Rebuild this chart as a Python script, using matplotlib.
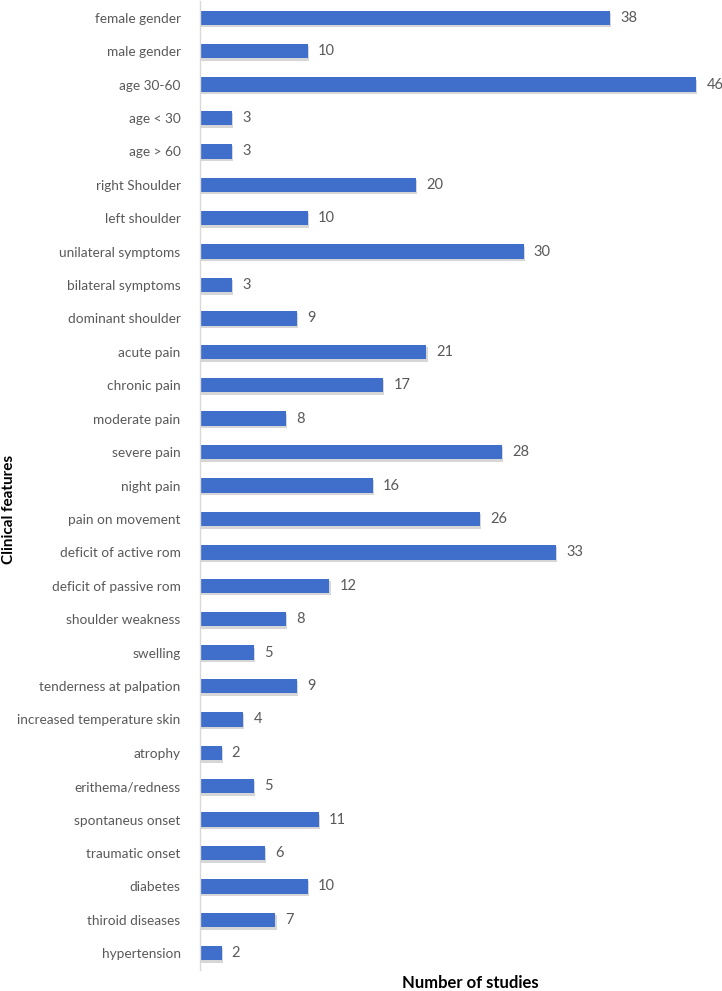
import matplotlib
matplotlib.use("Agg")
import matplotlib.pyplot as plt

features = ["female gender", "male gender", "age 30-60", "age < 30", "age > 60",
            "right Shoulder", "left shoulder", "unilateral symptoms", "bilateral symptoms",
            "dominant shoulder", "acute pain", "chronic pain", "moderate pain", "severe pain",
            "night pain", "pain on movement", "deficit of active rom", "deficit of passive rom",
            "shoulder weakness", "swelling", "tenderness at palpation",
            "increased temperature skin", "atrophy", "erithema/redness", "spontaneus onset",
            "traumatic onset", "diabetes", "thiroid diseases", "hypertension"]
studies = [38, 10, 46, 3, 3, 20, 10, 30, 3, 9, 21, 17, 8, 28, 16, 26, 33, 12, 8, 5, 9,
           4, 2, 5, 11, 6, 10, 7, 2]

plt.rcParams['font.family'] = ['Lato', 'DejaVu Sans']

fig = plt.figure(figsize=(7.22, 9.91), dpi=100)
ax = fig.add_axes([200/722, 21/991, 522/722, 969/991])

pos = list(range(len(features)))
# soft shadow behind bars
ax.barh([p + 0.07 for p in pos], studies, height=0.44, left=0.1, color='#d6d6d6', zorder=1)
ax.barh(pos, studies, height=0.43, color='#3f6fca', zorder=2)

for p, v in zip(pos, studies):
    ax.text(v + 0.95, p, str(v), va='center', ha='left', fontsize=10.5, color='#595959',
            clip_on=False)

ax.set_yticks(pos)
ax.set_yticklabels(features, fontsize=9.8, color='#595959')
ax.set_ylim(len(features) - 0.5, -0.5)
ax.set_xlim(0, 48.4)
ax.set_xticks([])
ax.tick_params(axis='y', length=0, pad=14)

for s in ['top', 'right', 'bottom']:
    ax.spines[s].set_visible(False)
ax.spines['left'].set_color('#d9d9d9')
ax.spines['left'].set_linewidth(1)

fig.text(470/722, 1 - 983/991, "Number of studies", ha='center', va='center',
         fontsize=12, fontweight='bold')
fig.text(9/722, 1 - 509/991, "Clinical features", rotation=90, va='center', ha='center',
         fontsize=11, fontweight='bold')

fig.savefig("out.png", dpi=100)
